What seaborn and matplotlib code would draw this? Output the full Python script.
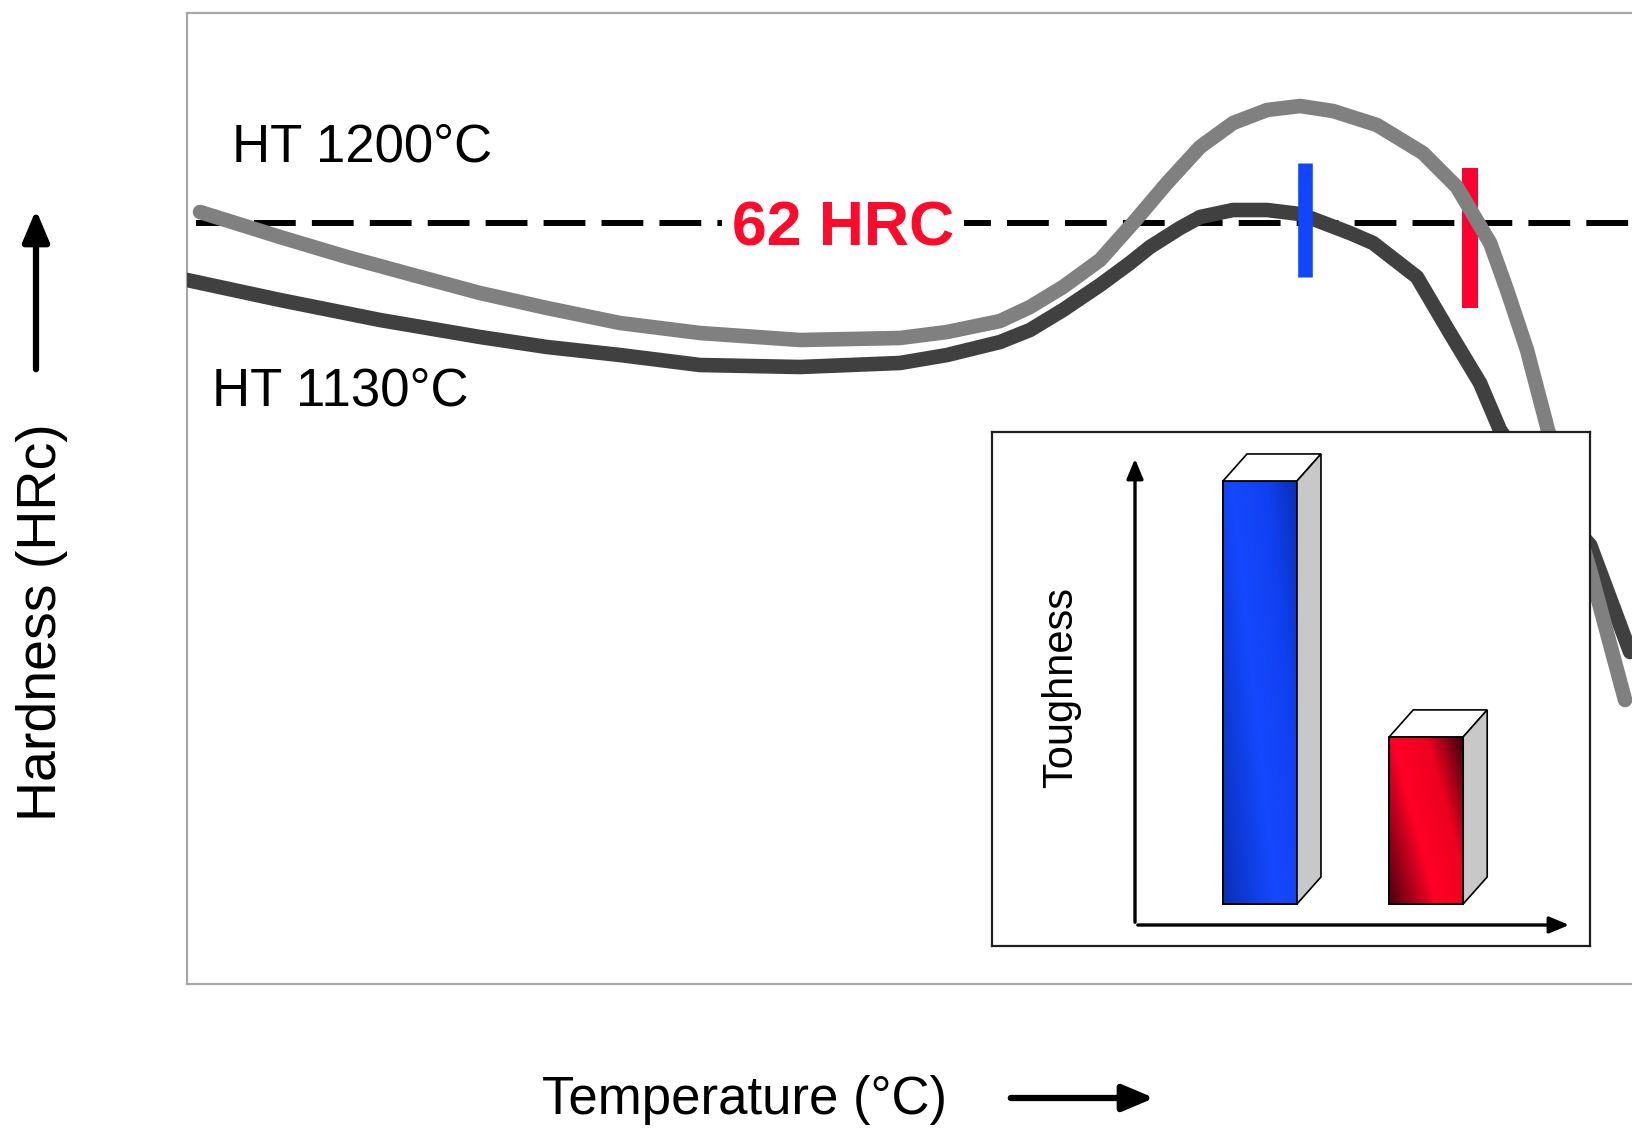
import numpy as np
import pandas as pd
import matplotlib
matplotlib.use("Agg")
import matplotlib.pyplot as plt
import seaborn as sns
from matplotlib.colors import LinearSegmentedColormap
from matplotlib.patches import Polygon, FancyArrowPatch, Rectangle
from matplotlib.transforms import IdentityTransform

# Hardness curves (tempering temperature in degC, hardness in HRC)
temp_1200 = [105.2, 138.4, 166.2, 193.6, 221.4, 249.2, 279.5, 312.7, 354.2, 395.7,
             415.3, 437.3, 449.7, 463.4, 478.8, 492.5, 506.6, 520.3, 534.0, 548.1,
             561.8, 575.5, 593.7, 612.8, 626.9, 640.7, 647.7, 656.0, 664.7, 682.2,
             696.7]
hrc_1200 = [62.55, 61.3, 60.3, 59.4, 58.5, 57.75, 57.0, 56.5, 56.15, 56.25,
            56.55, 57.1, 57.8, 58.8, 60.15, 62.0, 64.0, 65.8, 67.0, 67.65,
            67.85, 67.6, 66.9, 65.5, 63.8, 61.0, 58.65, 55.65, 51.65, 44.65,
            38.15]

temp_1130 = [99.8, 138.4, 179.9, 221.4, 249.2, 279.5, 312.7, 354.2, 395.7, 415.3,
             437.3, 449.7, 463.4, 478.8, 491.2, 499.5, 512.0, 520.3, 534.0, 548.1,
             561.8, 582.5, 592.1, 610.3, 624.0, 636.5, 644.8, 663.5, 682.2, 698.8]
hrc_1130 = [59.15, 58.15, 57.15, 56.3, 55.8, 55.4, 54.9, 54.8, 55.0, 55.4,
            56.05, 56.65, 57.65, 58.9, 60.0, 60.8, 61.75, 62.3, 62.65, 62.65,
            62.45, 61.5, 61.0, 59.3, 56.5, 54.0, 51.65, 48.4, 45.9, 40.55]

target_hrc = 62
# tempering temperatures marked on the curves, with the span of each marker
marker_temps = [563.9, 632.3]
marker_lo = [59.3, 57.75]
marker_hi = [65.0, 64.75]
marker_colors = ["#1046ff", "#ff0030"]

# inset: relative toughness of the two treatments
tough_labels = ["HT 1130°C", "HT 1200°C"]
toughness = [100, 39.5]

W, H = 1633, 1133
sns.set_style("white")
plt.rcParams["font.family"] = ["Liberation Sans", "DejaVu Sans"]
plt.rcParams["text.color"] = "black"

fig = plt.figure(figsize=(W / 100, H / 100), dpi=100)

# ---- main hardness panel ----
ax = fig.add_axes([187.5 / W, 1 - 984 / H, (W - 187.5) / W, (984 - 13) / H])
ax.set_xlim(100, 700)
ax.set_ylim(23.95, 72.5)
ax.set_xticks([])
ax.set_yticks([])
for side in ["left", "top", "bottom"]:
    ax.spines[side].set_color("#a8a8a8")
    ax.spines[side].set_linewidth(1.6)
ax.spines["right"].set_visible(False)

ax.axhline(target_hrc, xmin=0.006, color="black", lw=4.3,
           dashes=(7.0, 2.7), zorder=1)

df_hi = pd.DataFrame({"temp": temp_1200, "hrc": hrc_1200})
df_lo = pd.DataFrame({"temp": temp_1130, "hrc": hrc_1130})
sns.lineplot(data=df_lo, x="temp", y="hrc", ax=ax, color="#404040",
             sort=False, zorder=3)
dark_line = ax.lines[-1]
ax.vlines(marker_temps[0], marker_lo[0], marker_hi[0], color=marker_colors[0],
          lw=10.5, zorder=4)
ax.vlines(marker_temps[1], marker_lo[1], marker_hi[1], color=marker_colors[1],
          lw=11.5, zorder=4)
sns.lineplot(data=df_hi, x="temp", y="hrc", ax=ax, color="#808080",
             sort=False, zorder=5)
light_line = ax.lines[-1]
for ln in (dark_line, light_line):
    ln.set_linewidth(10.5)
    ln.set_solid_capstyle("round")
    ln.set_solid_joinstyle("round")
ax.set_xlabel("")
ax.set_ylabel("")

ax.text(372, target_hrc - 0.3, "62 HRC", color="#ff0a2a", fontsize=45,
        fontweight="bold", ha="center", va="center", zorder=2,
        bbox=dict(facecolor="white", edgecolor="none", pad=7))

fig.text(232 / W, 1 - 147 / H, "HT 1200°C", fontsize=38, ha="left", va="center")
fig.text(212 / W, 1 - 391 / H, "HT 1130°C", fontsize=38, ha="left", va="center")

# axis captions with arrows
fig.text(42 / W, 1 - 622 / H, "Hardness (HRc)", fontsize=40, rotation=90,
         ha="center", va="center")
fig.text(745 / W, 1 - 1100 / H, "Temperature (°C)", fontsize=38,
         ha="center", va="center")
for start, end in [((36, 372), (36, 207)), ((1008, 1098), (1157, 1098))]:
    fig.add_artist(FancyArrowPatch(
        (start[0] / W, 1 - start[1] / H), (end[0] / W, 1 - end[1] / H),
        transform=fig.transFigure, arrowstyle="-|>,head_length=19,head_width=8",
        color="black", lw=4.5, mutation_scale=1))

# ---- inset toughness panel ----
frame = fig.add_axes([992 / W, 1 - 946 / H, (1590 - 992) / W, (946 - 432) / H])
frame.set_xticks([])
frame.set_yticks([])
frame.set_facecolor("white")
for s in frame.spines.values():
    s.set_color("#202020")
    s.set_linewidth(1.6)

iax = fig.add_axes([1135 / W, 1 - 925 / H, (1572 - 1135) / W, (925 - 456) / H])
iax.set_facecolor("none")
iax.set_xticks([])
iax.set_yticks([])
for s in iax.spines.values():
    s.set_visible(False)
fig.text(1061 / W, 1 - 687 / H, "Toughness", fontsize=30, rotation=90,
         ha="center", va="center")

sns.barplot(x=[0, 1], y=toughness, ax=iax, native_scale=True, width=0.445,
            palette=["#1448ff", "#ff0026"], hue=[0, 1], legend=False,
            edgecolor="black", linewidth=1.2, zorder=3)
iax.set_xlim(-0.752, 1.877)
iax.set_ylim(-4.97, 105.9)
bar_patches = [p for p in iax.patches if isinstance(p, Rectangle)]

for end in [(0, 1.0), (1.0, 0)]:
    iax.add_artist(FancyArrowPatch((0, 0), end, transform=iax.transAxes,
                                   arrowstyle="-|>,head_length=12,head_width=5",
                                   color="black", lw=2.4, mutation_scale=1,
                                   clip_on=False))

cmaps = [
    LinearSegmentedColormap.from_list("b", [(0, "#0a2fb8"), (0.45, "#1549ff"),
                                            (0.75, "#1040f0"), (1, "#0a2fb8")]),
    LinearSegmentedColormap.from_list("r", [(0, "#4a000e"), (0.4, "#ff0026"),
                                            (0.7, "#ee0020"), (1, "#3a000a")]),
]
fig.canvas.draw()
depth_x, depth_y = 24, 27
for patch, cmap in zip(bar_patches, cmaps):
    x0, y0 = patch.get_x(), patch.get_y()
    x1, y1 = x0 + patch.get_width(), y0 + patch.get_height()
    gx, gy = np.meshgrid(np.linspace(0, 1, 60), np.linspace(0, 1, 200))
    grad = 0.62 * gx + 0.38 * gy
    im = iax.imshow(grad, extent=(x0, x1, y1, y0), cmap=cmap, aspect="auto",
                    interpolation="bilinear", zorder=3.5, origin="upper")
    im.set_clip_path(patch)
    (px0, py0), (px1, py1) = iax.transData.transform([(x0, y0), (x1, y1)])
    top = [(px0, py1), (px1, py1), (px1 + depth_x, py1 + depth_y),
           (px0 + depth_x, py1 + depth_y)]
    side = [(px1, py0), (px1 + depth_x, py0 + depth_y),
            (px1 + depth_x, py1 + depth_y), (px1, py1)]
    for verts, fc in [(top, "white"), (side, "#c8c8c8")]:
        fig.add_artist(Polygon(verts, closed=True, facecolor=fc, edgecolor="black",
                               lw=1.2, transform=IdentityTransform(), zorder=10))
    iax.add_patch(Rectangle((x0, y0), x1 - x0, y1 - y0, fill=False,
                            edgecolor="black", lw=1.4, zorder=4))
iax.set_xlim(-0.752, 1.877)
iax.set_ylim(-4.97, 105.9)

fig.savefig("out.png", dpi=100)
